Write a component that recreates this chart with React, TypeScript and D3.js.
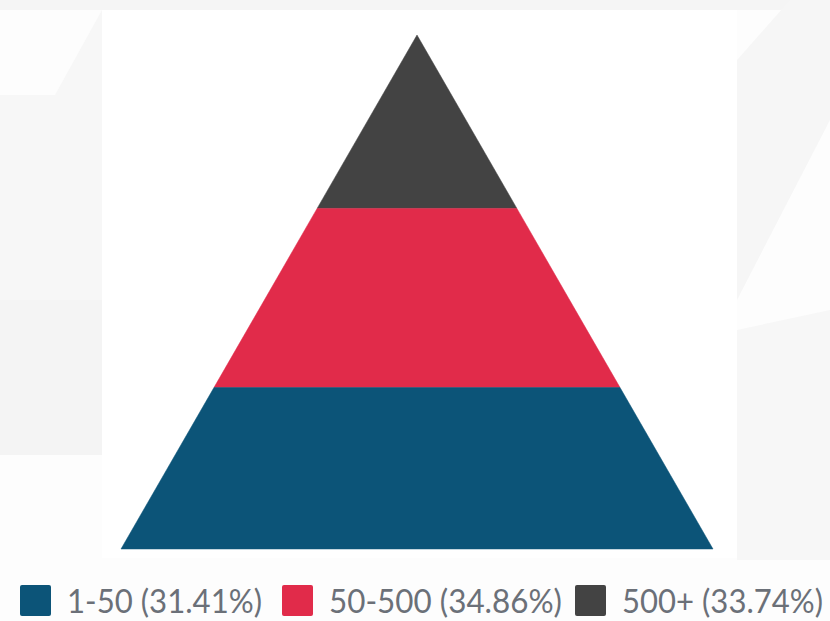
import React from "react";
import * as d3 from "d3";

const categories = ["1-50", "50-500", "500+"];
const percents = [31.41, 34.86, 33.74];
const colors = ["#0C5478", "#E12B4A", "#434343"];

const W = 830;
const H = 621;

export default function App() {
  // stack from the top (apex) downward: 500+, 50-500, 1-50
  const order = [2, 1, 0];
  const total = d3.sum(percents);
  const apexY = 35;
  const baseY = 549;
  const cx = 417;
  const halfBase = 296;
  const y = d3.scaleLinear().domain([0, total]).range([apexY, baseY]);
  const half = d3.scaleLinear().domain([0, total]).range([0, halfBase]);

  let acc = 0;
  const segments = order.map((i) => {
    const start = acc;
    acc += percents[i];
    const end = acc;
    const pts: [number, number][] = [
      [cx - half(start), y(start)],
      [cx + half(start), y(start)],
      [cx + half(end), y(end)],
      [cx - half(end), y(end)],
    ];
    return { i, pts };
  });
  const line = d3.line<[number, number]>();

  const legendX = [20, 282, 575];
  const legendTextW = [195, 233, 201];

  return (
    <svg
      width={W}
      height={H}
      style={{ position: "absolute", left: 0, top: 0, display: "block" }}
    >
      <rect x={0} y={0} width={W} height={H} fill="#fdfdfd" />
      {/* faint background watermark shapes */}
      <polygon points="0,0 830,0 830,10 0,10" fill="#f5f5f5" />
      <polygon points="0,95 55,95 102,10 102,300 0,300" fill="#f7f7f7" />
      <polygon points="0,300 102,300 102,455 0,455" fill="#f4f4f4" />
      <polygon points="737,60 790,0 830,0 830,120 737,300" fill="#f6f6f6" />
      <polygon points="737,330 830,310 830,560 737,560" fill="#f7f7f7" />
      <rect x={102} y={10} width={635} height={548} fill="#ffffff" />
      {segments.map((s) => (
        <path
          key={s.i}
          d={line(s.pts) + "Z"}
          fill={colors[s.i]}
          stroke={colors[s.i]}
          strokeWidth={0.5}
        />
      ))}
      {categories.map((c, i) => (
        <g key={c}>
          <rect
            x={legendX[i]}
            y={585}
            width={31}
            height={31}
            rx={2}
            fill={colors[i]}
          />
          <text
            x={legendX[i] + 47}
            y={613}
            fontFamily="Lato, 'Open Sans', sans-serif"
            fontSize={32}
            fill="#6b7078"
            textLength={legendTextW[i]}
            lengthAdjust="spacingAndGlyphs"
          >
            {`${c} (${percents[i].toFixed(2)}%)`}
          </text>
        </g>
      ))}
    </svg>
  );
}
